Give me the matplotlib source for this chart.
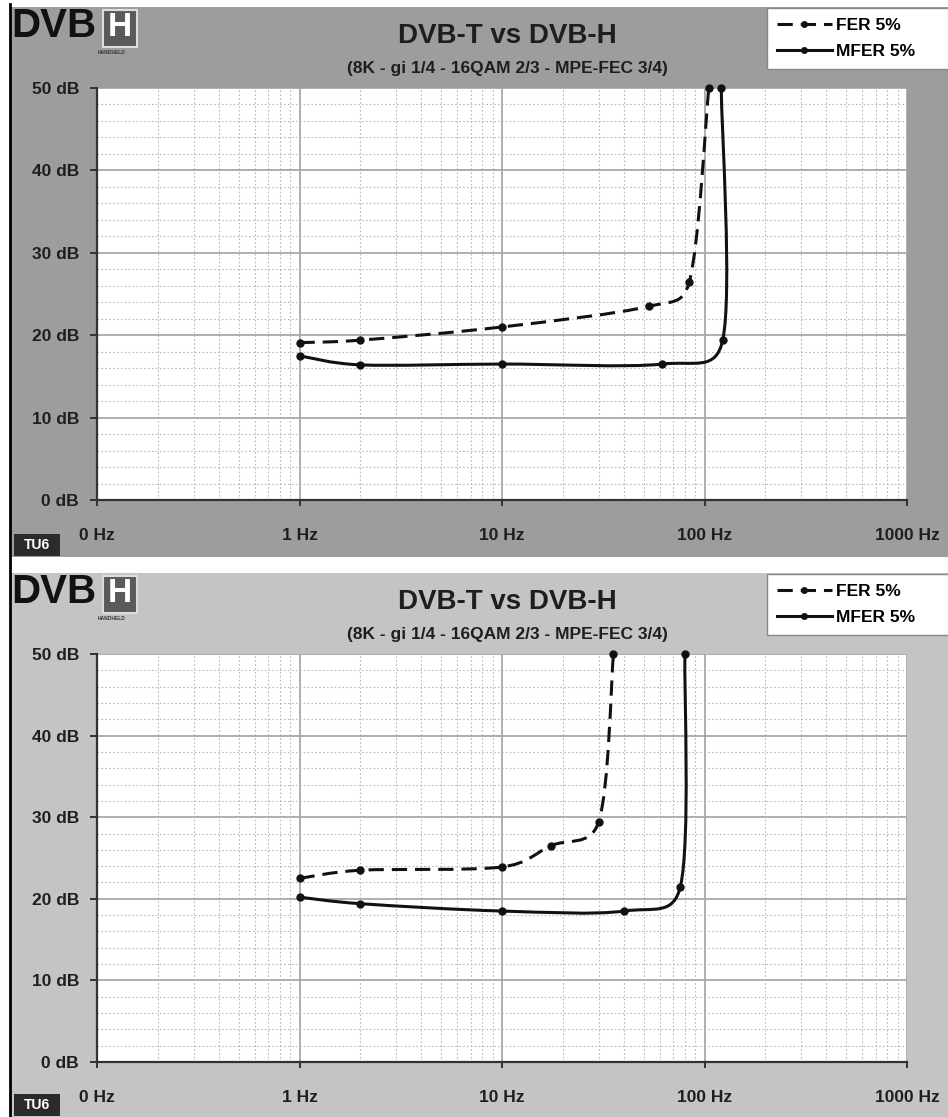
import numpy as np
import matplotlib
matplotlib.use("Agg")
import matplotlib.pyplot as plt
from matplotlib.path import Path
from matplotlib.patches import PathPatch, Rectangle
from matplotlib.lines import Line2D
from matplotlib.ticker import FixedLocator, LogLocator, NullFormatter

plt.rcParams["font.family"] = ["Liberation Sans", "DejaVu Sans"]
plt.rcParams["font.weight"] = "bold"

W, H = 948, 1117

# top chart
top_fer_hz = [1, 2, 10, 53, 84, 105]
top_fer_db = [19.1, 19.4, 21.0, 23.5, 26.4, 50]
top_mfer_hz = [1, 2, 10, 62, 123, 121]
top_mfer_db = [17.5, 16.4, 16.5, 16.5, 19.4, 50]

# bottom chart
bot_fer_hz = [1, 2, 10, 17.4, 30, 35.5]
bot_fer_db = [22.5, 23.5, 23.9, 26.5, 29.4, 50]
bot_mfer_hz = [1, 2, 10, 40, 76, 80]
bot_mfer_db = [20.2, 19.4, 18.5, 18.5, 21.5, 50]

x_ticks = [0.1, 1, 10, 100, 1000]
x_labels = ["0 Hz", "1 Hz", "10 Hz", "100 Hz", "1000 Hz"]
y_ticks = [0, 10, 20, 30, 40, 50]
y_labels = ["0 dB", "10 dB", "20 dB", "30 dB", "40 dB", "50 dB"]

title = "DVB-T vs DVB-H"
subtitle = "(8K - gi 1/4 - 16QAM 2/3 - MPE-FEC 3/4)"
series_names = ["FER 5%", "MFER 5%"]
ink = "#1e1e1e"


def fx(px):
    return px / W


def fy(py):
    return 1 - py / H


def smooth_path(xs, ys, sx=202.5, sy=8.2):
    # Excel style smoothed line: bezier control points from neighbours,
    # kept within half of the segment length (worked out in screen-like units)
    pts = np.column_stack([np.log10(xs) * sx, np.asarray(ys, float) * sy])
    n = len(pts)
    verts = [(xs[0], ys[0])]
    codes = [Path.MOVETO]
    for i in range(n - 1):
        p0, p1 = pts[max(i - 1, 0)], pts[i]
        p2, p3 = pts[i + 1], pts[min(i + 2, n - 1)]
        d12 = np.hypot(*(p2 - p1))
        t1, t2 = p2 - p0, p3 - p1
        n1, n2 = np.hypot(*t1), np.hypot(*t2)
        c1 = p1 + (t1 / n1 * min(n1 / 6, d12 / 2) if n1 > 0 else 0)
        c2 = p2 - (t2 / n2 * min(n2 / 6, d12 / 2) if n2 > 0 else 0)
        for c in (c1, c2):
            verts.append((10 ** (c[0] / sx), c[1] / sy))
        verts.append((xs[i + 1], ys[i + 1]))
        codes += [Path.CURVE4] * 3
    return Path(verts, codes)


def panel(fig, top, bottom, plot_top, plot_bot, bg, fer_hz, fer_db, mfer_hz, mfer_db):
    fig.add_artist(Rectangle((fx(10), fy(bottom)), fx(W - 10), (bottom - top) / H,
                             transform=fig.transFigure, facecolor=bg, edgecolor="none", zorder=-5))
    # logo
    fig.text(fx(11), fy(top + 19), "DVB", fontsize=29, color="#111", ha="left", va="center",
             fontweight="bold")
    fig.add_artist(Rectangle((fx(103), fy(top + 40)), fx(34), 37 / H, transform=fig.transFigure,
                             facecolor="#5a5a5a", edgecolor="#dddddd", lw=1.5))
    fig.text(fx(120), fy(top + 21), "H", fontsize=24, color="white", ha="center", va="center")
    fig.text(fx(112), fy(top + 46), "HANDHELD", fontsize=3.5, color="#333", ha="center", va="center")
    # titles
    fig.text(fx(507), fy(top + 29), title, fontsize=20, color=ink, ha="center", va="center")
    fig.text(fx(507), fy(top + 61), subtitle, fontsize=12.5, color=ink, ha="center", va="center")
    # TU6 label
    fig.add_artist(Rectangle((fx(14), fy(bottom - 1)), fx(46), 22 / H, transform=fig.transFigure,
                             facecolor="#2b2b2b", edgecolor="none"))
    fig.text(fx(37), fy(bottom - 12), "TU6", fontsize=10, color="white", ha="center", va="center")

    ax = fig.add_axes([fx(97), fy(plot_bot), fx(810), (plot_bot - plot_top) / H])
    ax.set_facecolor("white")
    ax.set_xscale("log")
    ax.set_xlim(0.1, 1000)
    ax.set_ylim(0, 50)
    ax.xaxis.set_major_locator(FixedLocator(x_ticks))
    ax.set_xticklabels(x_labels)
    ax.xaxis.set_minor_locator(LogLocator(base=10, subs=np.arange(2, 10)))
    ax.xaxis.set_minor_formatter(NullFormatter())
    ax.set_yticks(y_ticks)
    ax.set_yticklabels(y_labels)
    ax.yaxis.set_minor_locator(FixedLocator(np.arange(0, 51, 2)))
    ax.grid(True, which="major", color="#a8a8a8", lw=1.3)
    ax.grid(True, which="minor", color="#b8b8b8", lw=0.8, linestyle=(0, (1.5, 2)))
    ax.set_axisbelow(True)
    for s in ["top", "right"]:
        ax.spines[s].set_visible(False)
    for s in ["left", "bottom"]:
        ax.spines[s].set_color("#333")
        ax.spines[s].set_linewidth(1.6)
    ax.tick_params(which="minor", length=0)
    ax.tick_params(axis="y", which="major", length=5, width=1.4, color="#333", pad=8,
                   labelsize=12.5, labelcolor=ink)
    ax.tick_params(axis="x", which="major", length=4, width=1.4, color="#333", pad=16,
                   labelsize=12.5, labelcolor=ink)

    styles = [(0, (5, 2.6)), "solid"]
    handles = []
    for (hz, db), ls in zip([(fer_hz, fer_db), (mfer_hz, mfer_db)], styles):
        ax.add_patch(PathPatch(smooth_path(hz, db), fill=False, edgecolor="#111", lw=2.2,
                               linestyle=ls, clip_on=False, zorder=3, capstyle="butt"))
        ax.plot(hz, db, "o", ms=5, color="#111", clip_on=False, zorder=4)
        handles.append(Line2D([], [], color="#111", lw=2.2, linestyle=ls, marker="o", ms=4))

    ax.legend(handles, series_names, loc="upper left",
              bbox_to_anchor=(fx(767), fy(top + 65), fx(190), 64 / H),
              bbox_transform=fig.transFigure, mode="expand", borderaxespad=0, fancybox=False,
              framealpha=1, edgecolor="#888", fontsize=12.5, handlelength=3.2, handletextpad=0.2,
              labelspacing=0.65, borderpad=0.55, numpoints=1)
    return ax


fig = plt.figure(figsize=(W / 100, H / 100), dpi=100)
panel(fig, 7, 557, 88, 500, "#9d9d9d", top_fer_hz, top_fer_db, top_mfer_hz, top_mfer_db)
panel(fig, 573, 1117, 654, 1062, "#c4c4c4", bot_fer_hz, bot_fer_db, bot_mfer_hz, bot_mfer_db)
fig.add_artist(Line2D([fx(10), fx(10)], [0, fy(4)], transform=fig.transFigure, color="black", lw=2))

fig.savefig("out.png", dpi=100)
